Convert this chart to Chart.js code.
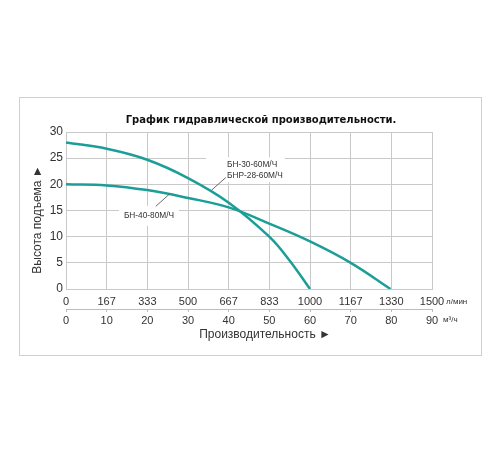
<!DOCTYPE html>
<html><head><meta charset="utf-8">
<script src="https://cdn.jsdelivr.net/npm/chart.js@4"></script>
<style>html,body{margin:0;padding:0;background:#fff}canvas{display:block}</style>
</head><body>
<canvas id="c" width="500" height="450"></canvas>
<script>
// ---- text ----
const chartTitle = 'График гидравлической производительности.';
const yAxisTitle = 'Высота подъема ►';
const xAxisTitle = 'Производительность ►';
const unitLpm = 'л/мин';
const unitM3h = 'м³/ч';
const seriesLabel1 = ['БН-30-60М/Ч', 'БНР-28-60М/Ч'];
const seriesLabel2 = ['БН-40-80М/Ч'];

// ---- axes ----
const xLpmTickLabels = ['0','167','333','500','667','833','1000','1167','1330','1500'];
const xLpmMax = 1500;
const xM3hMax = 90;
const xM3hStep = 10;
const yMax = 30;
const yStep = 5;

// ---- series (flow l/min, head m) ----
const flow1 = [0, 167, 333, 500, 667, 833, 917, 1000];
const head1 = [28, 26.8, 24.7, 21.2, 16.5, 10, 5.4, 0];
const flow2 = [0, 167, 333, 500, 667, 833, 1000, 1167, 1330];
const head2 = [20, 19.8, 18.9, 17.4, 15.6, 12.5, 9.1, 5.0, 0];

// ---- annotation anchors (data units) ----
const label1Leader = [[597, 18.9], [655, 21.3]];
const label1Pos = [660, 22.7];
const label2Leader = [[368, 15.8], [423, 18.1]];
const label2Pos = [340, 14.0];

const TEAL = '#1b9e97';
const GRID = '#c9c9c9';
const TXT = '#333333';
const FONT = '"Liberation Sans", Arial, sans-serif';

const decor = {
  id: 'decor',
  beforeDraw(chart) {
    const c = chart.ctx;
    c.save();
    c.strokeStyle = '#cfcfcf';
    c.lineWidth = 1;
    c.strokeRect(19.5, 97.5, 462, 258);
    c.restore();
  },
  beforeDatasetsDraw(chart) {
    const c = chart.ctx, xs = chart.scales.x, ys = chart.scales.y;
    c.save();
    c.fillStyle = '#ffffff';
    let x1 = xs.getPixelForValue(label1Pos[0]);
    let yc = ys.getPixelForValue(label1Pos[1]);
    c.font = '8.3px ' + FONT;
    let w1 = Math.max(...seriesLabel1.map(t => c.measureText(t).width));
    c.fillRect(x1 - 21, yc - 13, w1 + 23, 25);
    let x2 = xs.getPixelForValue(label2Pos[0]);
    let y2 = ys.getPixelForValue(label2Pos[1]);
    let w2 = c.measureText(seriesLabel2[0]).width;
    c.fillRect(x2 - w2 / 2 - 5, y2 - 10, w2 + 10, 20);
    c.restore();
  },
  afterDatasetsDraw(chart) {
    const c = chart.ctx, xs = chart.scales.x, ys = chart.scales.y, ca = chart.chartArea;
    const P = p => [xs.getPixelForValue(p[0]), ys.getPixelForValue(p[1])];
    c.save();
    c.strokeStyle = '#444';
    c.lineWidth = 0.8;
    [label1Leader, label2Leader].forEach(l => {
      const a = P(l[0]), b = P(l[1]);
      c.beginPath(); c.moveTo(a[0], a[1]); c.lineTo(b[0], b[1]); c.stroke();
    });
    c.fillStyle = TXT;
    c.font = '8.3px ' + FONT;
    c.textBaseline = 'middle';
    c.textAlign = 'left';
    let p1 = P(label1Pos);
    c.fillText(seriesLabel1[0], p1[0], p1[1] - 5.3);
    c.fillText(seriesLabel1[1], p1[0], p1[1] + 5.3);
    c.textAlign = 'center';
    let p2 = P(label2Pos);
    c.fillText(seriesLabel2[0], p2[0], p2[1]);
    // chart title
    c.fillStyle = '#111';
    c.font = 'bold 10px "DejaVu Sans", sans-serif';
    c.fillText(chartTitle, (ca.left + ca.right) / 2 + 12, ca.top - 12);
    // axis titles
    c.fillStyle = TXT;
    c.font = '12px ' + FONT;
    c.fillText(xAxisTitle, (ca.left + ca.right) / 2 + 16, ca.bottom + 46);
    c.save();
    c.translate(ca.left - 28, (ca.top + ca.bottom) / 2 + 9);
    c.rotate(-Math.PI / 2);
    c.fillText(yAxisTitle, 0, 0);
    c.restore();
    c.textAlign = 'left';
    c.font = '8px ' + FONT;
    c.fillText(unitLpm, ca.right + 14, ca.bottom + 12.5);
    c.fillText(unitM3h, ca.right + 11, ca.bottom + 31);
    c.restore();
  }
};

new Chart(document.getElementById('c'), {
  type: 'line',
  data: {
    datasets: [
      { label: seriesLabel1.join(' / '), data: flow1.map((x, i) => ({ x, y: head1[i] })),
        borderColor: TEAL, borderWidth: 2.5, pointRadius: 0, tension: 0.4, fill: false, xAxisID: 'x' },
      { label: seriesLabel2[0], data: flow2.map((x, i) => ({ x, y: head2[i] })),
        borderColor: TEAL, borderWidth: 2.5, pointRadius: 0, tension: 0.4, fill: false, xAxisID: 'x' }
    ]
  },
  options: {
    responsive: false,
    animation: false,
    layout: { padding: { top: 132, right: 68, left: 0, bottom: 0 } },
    plugins: { legend: { display: false }, title: { display: false }, tooltip: { enabled: false } },
    scales: {
      x: {
        type: 'linear', position: 'bottom', min: 0, max: xLpmMax,
        afterBuildTicks: s => { s.ticks = xLpmTickLabels.map((_, i) => ({ value: i * xLpmMax / (xLpmTickLabels.length - 1) })); },
        ticks: { callback: (v, i) => xLpmTickLabels[i], font: { size: 11, family: FONT }, color: TXT, padding: 6, maxRotation: 0, autoSkip: false },
        grid: { color: GRID, drawTicks: false, lineWidth: 1 },
        border: { display: true, color: GRID },
        afterFit: s => { s.height = 20; }
      },
      x2: {
        type: 'linear', position: 'bottom', min: 0, max: xM3hMax,
        ticks: { stepSize: xM3hStep, font: { size: 11, family: FONT }, color: TXT, padding: 2, maxRotation: 0, autoSkip: false },
        grid: { drawOnChartArea: false, drawTicks: true, tickLength: 3, color: '#bdbdbd' },
        border: { display: true, color: '#bdbdbd' },
        afterFit: s => { s.height = 141; }
      },
      y: {
        type: 'linear', min: 0, max: yMax,
        ticks: { stepSize: yStep, font: { size: 12, family: FONT }, color: TXT, padding: 3 },
        grid: { color: GRID, drawTicks: false, lineWidth: 1 },
        border: { display: true, color: GRID },
        afterFit: s => { s.width = 66; }
      }
    }
  },
  plugins: [decor]
});
</script>
</body></html>
